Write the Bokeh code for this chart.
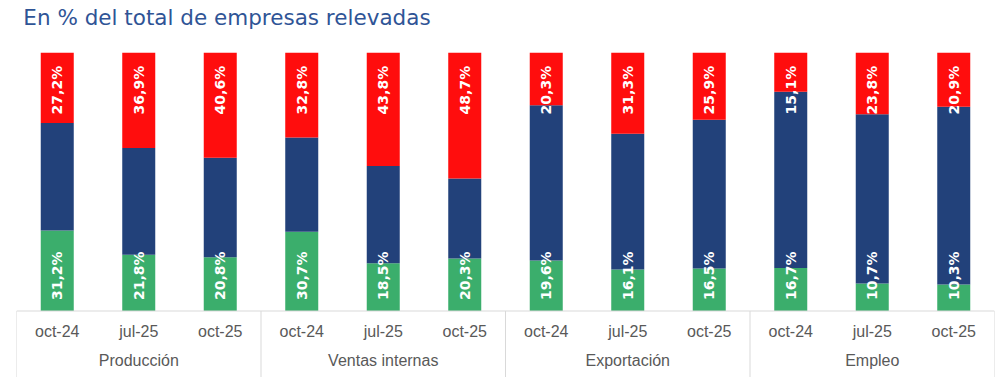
from bokeh.plotting import figure
from bokeh.models import FactorRange, ColumnDataSource, Span, Label, Range1d
from bokeh.layouts import column
from bokeh.core.properties import value
from bokeh.embed import file_html
from bokeh.resources import INLINE
import math

groups = ["Producción", "Ventas internas", "Exportación", "Empleo"]
periods = ["oct-24", "jul-25", "oct-25"]

# share of firms (%) per group and period, bottom -> top
green = [31.2, 21.8, 20.8, 30.7, 18.5, 20.3, 19.6, 16.1, 16.5, 16.7, 10.7, 10.3]
blue = [41.6, 41.3, 38.6, 36.5, 37.7, 31.0, 60.1, 52.6, 57.6, 68.2, 65.5, 68.8]
red = [27.2, 36.9, 40.6, 32.8, 43.8, 48.7, 20.3, 31.3, 25.9, 15.1, 23.8, 20.9]

title_text = "En % del total de empresas relevadas"

C_GREEN = "#3BAE6C"
C_BLUE = "#22417A"
C_RED = "#FF0D0D"
C_GRID = "#D9D9D9"
C_TXT = "#595959"

# ---- title strip ----
t = figure(width=1000, height=40, x_range=Range1d(0, 1000), y_range=Range1d(0, 40),
           output_backend="svg", toolbar_location=None,
           min_border_left=0, min_border_right=0, min_border_top=0, min_border_bottom=0)
t.axis.visible = False
t.grid.visible = False
t.outline_line_color = None
t.add_layout(Label(x=7, y=23.5, text=title_text,
                   text_baseline="middle", text_align="left",
                   text_color="#2F5496", text_font="DejaVu Sans",
                   text_font_size="21.5px"))

# ---- chart ----
factors = [(g, s) for g in groups for s in periods]

Y0, Y1 = -25.75, 104.77

p = figure(
    x_range=FactorRange(*factors, factor_padding=0, group_padding=0, range_padding=0),
    y_range=Range1d(Y0, Y1),
    width=1000, height=337,
    output_backend="svg", toolbar_location=None,
    min_border_left=16, min_border_right=6, min_border_top=0, min_border_bottom=0,
)
p.xaxis.visible = False
p.yaxis.visible = False
p.xgrid.grid_line_color = None
p.ygrid.grid_line_color = None
p.outline_line_color = None

fmt = lambda v: f"{v:.1f}%".replace(".", ",")

src = ColumnDataSource(dict(
    x=factors, green=green, blue=blue, red=red,
    gl=[fmt(v) for v in green], rl=[fmt(v) for v in red],
    zero=[0] * len(factors), top=[100] * len(factors),
))

p.vbar_stack(["green", "blue", "red"], x="x", width=0.405, source=src,
             color=[C_GREEN, C_BLUE, C_RED], line_color=None)

lab_font = value("DejaVu Sans")
p.text(x="x", y="zero", text="gl", source=src, angle=math.pi / 2,
       text_align="left", text_baseline="middle", y_offset=-11,
       text_color="white", text_font=lab_font, text_font_style="bold",
       text_font_size="14px")
p.text(x="x", y="top", text="rl", source=src, angle=math.pi / 2,
       text_align="right", text_baseline="middle", y_offset=13,
       text_color="white", text_font=lab_font, text_font_style="bold",
       text_font_size="14px")

# category axis drawn inside the frame
p.add_layout(Span(location=0, dimension="width", line_color=C_GRID, line_width=1))
n = len(periods)
bx = [i * n for i in range(len(groups) + 1)]
p.segment(x0=bx, y0=[Y0] * len(bx), x1=bx, y1=[0] * len(bx),
          line_color=C_GRID, line_width=1)

p.text(x=factors, y=[-7.8] * len(factors), text=[f[1] for f in factors],
       text_align="center", text_baseline="middle", text_color=C_TXT,
       text_font=value("Liberation Sans"), text_font_size="16px")
p.text(x=[(g, periods[1]) for g in groups], y=[-19.2] * len(groups), text=groups,
       text_align="center", text_baseline="middle", text_color=C_TXT,
       text_font=value("Liberation Sans"), text_font_size="16px")

layout = column(t, p, spacing=0)
open("out.html", "w").write(file_html(layout, INLINE))
